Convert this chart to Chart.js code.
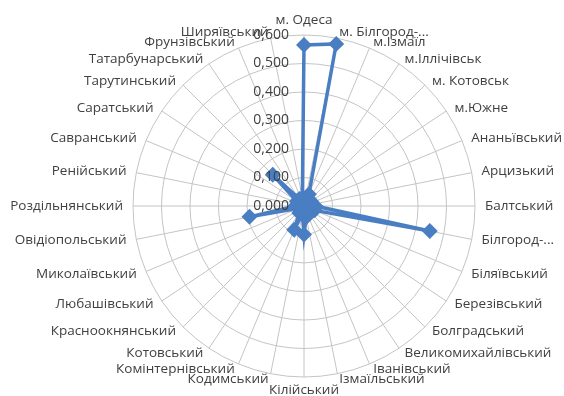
<!DOCTYPE html>
<html>
<head>
<meta charset="utf-8">
<script src="https://cdn.jsdelivr.net/npm/chart.js@4/dist/chart.umd.min.js"></script>
<style>
  html, body { margin: 0; padding: 0; background: #ffffff; }
  #wrap { width: 564px; height: 396px; }
</style>
</head>
<body>
<div id="wrap"><canvas id="c" width="564" height="396"></canvas></div>
<script>
const categories = [
  'м. Одеса', 'м. Білгород-...', 'м.Ізмаїл', 'м.Іллічівськ', 'м. Котовськ', 'м.Южне',
  'Ананьївський', 'Арцизький', 'Балтський', 'Білгород-...', 'Біляївський', 'Березівський',
  'Болградський', 'Великомихайлівський', 'Іванівський', 'Ізмаїльський', 'Кілійський',
  'Кодимський', 'Комінтернівський', 'Котовський', 'Красноокнянський', 'Любашівський',
  'Миколаївський', 'Овідіопольський', 'Роздільнянський', 'Ренійський', 'Савранський',
  'Саратський', 'Тарутинський', 'Татарбунарський', 'Фрунзівський', 'Ширяївський'
];
const values = [
  0.565, 0.580, 0.045, 0.030, 0.020, 0.030,
  0.020, 0.030, 0.040, 0.450, 0.040, 0.020,
  0.030, 0.020, 0.020, 0.040, 0.100,
  0.030, 0.090, 0.030, 0.020, 0.020,
  0.020, 0.195, 0.030, 0.020, 0.020,
  0.030, 0.155, 0.030, 0.020, 0.030
];
const tickValues = [0, 0.1, 0.2, 0.3, 0.4, 0.5, 0.6];
const tickLabels = ['0,000', '0,100', '0,200', '0,300', '0,400', '0,500', '0,600'];

const textPlugin = {
  id: 'textPlugin',
  afterDatasetsDraw(chart) {
    const s = chart.scales.r;
    const ctx = chart.ctx;
    ctx.save();
    ctx.fillStyle = '#404040';
    // category labels around the circle
    ctx.font = '13.5px "Open Sans"';
    ctx.textBaseline = 'middle';
    categories.forEach((lab, i) => {
      const p = s.getPointPosition(i, s.drawingArea + 6);
      const deg = ((p.angle * 180 / Math.PI) + 90 + 360) % 360;
      const rad = deg * Math.PI / 180;
      let x = p.x, y = p.y, align;
      if (deg < 1 || deg > 359) { align = 'center'; y -= 9; }
      else if (Math.abs(deg - 180) < 1) { align = 'center'; y += 7; }
      else if (deg < 180) { align = 'left'; x += 4 * Math.sin(rad); }
      else { align = 'right'; x += 4 * Math.sin(rad); }
      ctx.textAlign = align;
      ctx.fillText(lab, x, y);
    });
    // radial tick labels, left of the vertical axis
    ctx.font = '14px "Open Sans"';
    ctx.textAlign = 'right';
    tickValues.forEach((v, i) => {
      const d = s.getDistanceFromCenterForValue(v);
      ctx.fillText(tickLabels[i], s.xCenter - 15, s.yCenter - d);
    });
    ctx.restore();
  }
};

new Chart(document.getElementById('c'), {
  type: 'radar',
  data: {
    labels: categories,
    datasets: [{
      data: values,
      borderColor: '#4A7EC2',
      backgroundColor: '#4A7EC2',
      borderWidth: 3.5,
      fill: false,
      pointStyle: 'rectRot',
      pointRadius: 5.5,
      pointBackgroundColor: '#4A7EC2',
      pointBorderColor: '#4A7EC2',
      tension: 0
    }]
  },
  options: {
    responsive: false,
    animation: false,
    layout: { padding: { top: 35, bottom: 19, left: 133, right: 89 } },
    plugins: { legend: { display: false }, tooltip: { enabled: false } },
    scales: {
      r: {
        min: 0,
        max: 0.6,
        ticks: { stepSize: 0.1, display: false },
        grid: { circular: true, color: '#c4c4c4', lineWidth: 1 },
        angleLines: { color: '#c4c4c4', lineWidth: 1 },
        pointLabels: { display: false }
      }
    }
  },
  plugins: [textPlugin]
});
</script>
</body>
</html>
